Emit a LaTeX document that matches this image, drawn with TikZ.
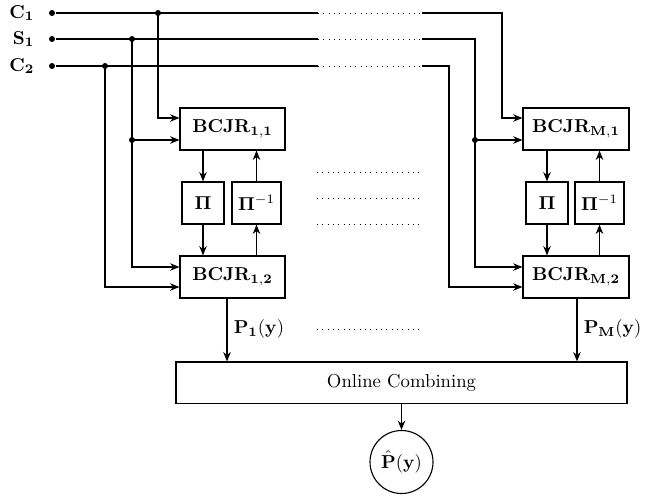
\documentclass[tikz,border=0pt]{standalone}
\usetikzlibrary{arrows.meta}
\begin{document}
\begin{tikzpicture}[x=0.535pt,y=-0.535pt, line width=0.6pt,
  >={Stealth[length=5pt,width=4pt]},
  blk/.style={draw, rectangle, inner sep=0pt, minimum height=22.5pt},
  dotln/.style={line width=0.45pt, dash pattern=on 0.45pt off 2.4pt},
  junc/.style={circle, fill, inner sep=0pt, minimum size=3.2pt}]
\useasboundingbox (0,0) rectangle (660,498);

% level coordinates
\coordinate (ya) at (0,118);
\coordinate (yb) at (0,140);
\coordinate (yc) at (0,267);
\coordinate (yd) at (0,287);

% blocks
\node[blk, minimum width=56.2pt] (b11) at (232.5,129) {$\mathbf{BCJR_{1,1}}$};
\node[blk, minimum width=22.5pt] (pi1) at (203,203) {$\mathbf{\Pi}$};
\node[blk, minimum width=26.2pt] (pii1) at (256.5,203) {$\mathbf{\Pi}^{-1}$};
\node[blk, minimum width=56.2pt] (b12) at (232.5,277) {$\mathbf{BCJR_{1,2}}$};
\node[blk, minimum width=56.7pt] (bM1) at (576,129) {$\mathbf{BCJR_{M,1}}$};
\node[blk, minimum width=22.5pt] (piM) at (547,203) {$\mathbf{\Pi}$};
\node[blk, minimum width=26.2pt] (piiM) at (599.5,203) {$\mathbf{\Pi}^{-1}$};
\node[blk, minimum width=56.7pt] (bM2) at (576,277) {$\mathbf{BCJR_{M,2}}$};
\node[blk, minimum width=241.3pt, minimum height=22pt] (comb) at (401.5,382.5) {Online Combining};
\node[draw, circle, minimum size=33.7pt, inner sep=0pt] (out) at (401.5,462) {$\hat{\mathbf{P}}(\mathbf{y})$};

% inputs
\node[junc] (c1d) at (52,13) {};
\node[junc] (s1d) at (52,39) {};
\node[junc] (c2d) at (52,66) {};
\node[anchor=east] (c1l) at (41,13) {$\mathbf{C_1}$};
\node[anchor=east] (s1l) at (41,39) {$\mathbf{S_1}$};
\node[anchor=east] (c2l) at (41,66) {$\mathbf{C_2}$};

\coordinate (c1a) at (318,13); \coordinate (c1b) at (422,13);
\coordinate (s1a) at (318,39); \coordinate (s1b) at (422,39);
\coordinate (c2a) at (318,66); \coordinate (c2b) at (422,66);
\draw (c1d) -- (c1a); \draw[dotln] (c1a) -- (c1b);
\draw (s1d) -- (s1a); \draw[dotln] (s1a) -- (s1b);
\draw (c2d) -- (c2a); \draw[dotln] (c2a) -- (c2b);

% left branches
\node[junc] (j1) at (158,13) {};
\node[junc] (j2) at (132,39) {};
\node[junc] (j2b) at (132,140) {};
\node[junc] (j3) at (105,66) {};
\draw[->] (j1.center) |- (b11.west |- ya);
\draw (j2.center) -- (j2b.center);
\draw[->] (j2b.center) -- (b11.west |- yb);
\draw[->] (j2b.center) |- (b12.west |- yc);
\draw[->] (j3.center) |- (b12.west |- yd);

% right branches
\coordinate (c1r) at (502,118);
\node[junc] (jM) at (475,140) {};
\coordinate (c2r) at (449,287);
\draw[->] (c1b) -| (c1r) -- (bM1.west |- c1r);
\draw (s1b) -| (jM.center);
\draw[->] (jM.center) -- (bM1.west |- jM);
\draw[->] (jM.center) |- (bM2.west |- yc);
\draw[->] (c2b) -| (c2r) -- (bM2.west |- c2r);

% interleaver loops
\draw[->] (b11.south -| pi1) -- (pi1.north);
\draw[->] (pi1.south) -- (b12.north -| pi1);
\draw[->] (b12.north -| pii1) -- (pii1.south);
\draw[->] (pii1.north) -- (b11.south -| pii1);
\draw[->] (bM1.south -| piM) -- (piM.north);
\draw[->] (piM.south) -- (bM2.north -| piM);
\draw[->] (bM2.north -| piiM) -- (piiM.south);
\draw[->] (piiM.north) -- (bM1.south -| piiM);

% middle dotted rows
\foreach \yy/\nm in {172/r1,198/r2,224/r3,329/r4}{
  \coordinate (\nm a) at (317,\yy); \coordinate (\nm b) at (420,\yy);
  \draw[dotln] (\nm a) -- (\nm b);
}

% outputs
\coordinate (o1) at (227,300);
\coordinate (oM) at (577,300);
\draw[->] (b12.south -| o1) -- (comb.north -| o1);
\draw[->] (bM2.south -| oM) -- (comb.north -| oM);
\node[anchor=west] (p1) at (227,329) {$\mathbf{P_1}(\mathbf{y})$};
\node[anchor=west] (pM) at (577,329) {$\mathbf{P_M}(\mathbf{y})$};
\draw[->] (comb.south) -- (out.north);
\end{tikzpicture}
\end{document}
